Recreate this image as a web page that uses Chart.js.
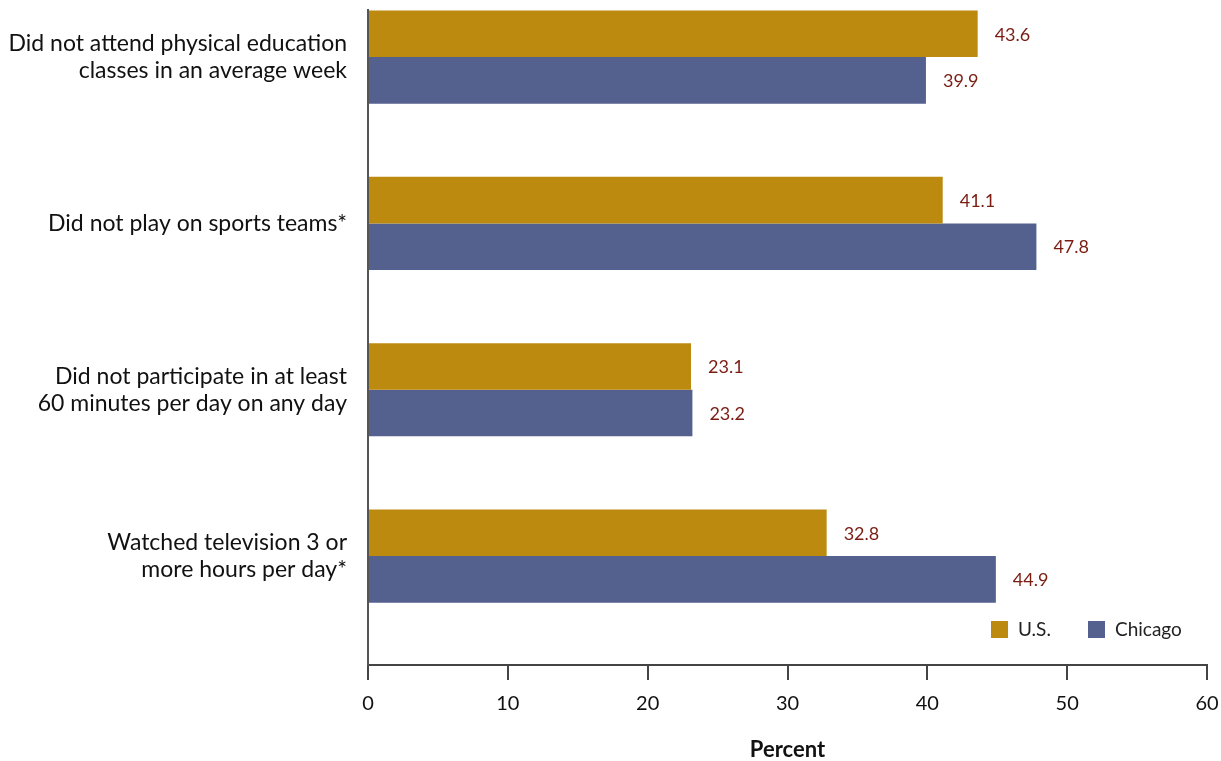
<!DOCTYPE html>
<html>
<head>
<meta charset="utf-8">
<script src="https://cdn.jsdelivr.net/npm/chart.js@4/dist/chart.umd.min.js"></script>
<style>
  html, body { margin: 0; padding: 0; background: #fff; }
  #wrap { width: 1221px; height: 761px; }
</style>
</head>
<body>
<div id="wrap"><canvas id="chart"></canvas></div>
<script>
// Data
const categories = [
  ["Did not attend physical education", "classes in an average week"],
  ["Did not play on sports teams*"],
  ["Did not participate in at least", "60 minutes per day on any day"],
  ["Watched television 3 or", "more hours per day*"]
];
const seriesNames = ["U.S.", "Chicago"];
const usValues = [43.6, 41.1, 23.1, 32.8];
const chicagoValues = [39.9, 47.8, 23.2, 44.9];
const xTicks = [0, 10, 20, 30, 40, 50, 60];

const colors = ["#BC8A0E", "#54618F"];
const labelColor = "#7A1C12";
const fontFamily = "Lato, 'Open Sans', sans-serif";

function toPoints(values) {
  return values.map((v, i) => ({ x: v, y: i }));
}

// Value labels drawn at the end of each bar
const valueLabels = {
  id: "valueLabels",
  afterDatasetsDraw(chart) {
    const ctx = chart.ctx;
    ctx.save();
    ctx.font = "18px " + fontFamily;
    ctx.fillStyle = labelColor;
    ctx.textAlign = "left";
    ctx.textBaseline = "middle";
    chart.data.datasets.forEach((ds, di) => {
      chart.getDatasetMeta(di).data.forEach((bar, i) => {
        const p = bar.getProps(["x", "y"], true);
        ctx.fillText(ds.data[i].x.toFixed(1), p.x + 17, p.y + 1);
      });
    });
    ctx.restore();
  }
};

// Legend sitting inside the plot, bottom right
const innerLegend = {
  id: "innerLegend",
  afterDraw(chart) {
    const ctx = chart.ctx;
    const area = chart.chartArea;
    ctx.save();
    ctx.font = "19px " + fontFamily;
    ctx.textBaseline = "middle";
    const y = area.bottom - 36;
    let x = area.right - 216;
    chart.data.datasets.forEach((ds) => {
      ctx.fillStyle = ds.backgroundColor;
      ctx.fillRect(x, y - 8, 17, 17);
      ctx.fillStyle = "#222";
      ctx.fillText(ds.label, x + 27, y + 1);
      x += 97;
    });
    ctx.restore();
  }
};

new Chart(document.getElementById("chart"), {
  type: "bar",
  data: {
    datasets: [
      { label: seriesNames[0], data: toPoints(usValues), backgroundColor: colors[0] },
      { label: seriesNames[1], data: toPoints(chicagoValues), backgroundColor: colors[1] }
    ]
  },
  options: {
    indexAxis: "y",
    responsive: true,
    maintainAspectRatio: false,
    animation: false,
    categoryPercentage: 0.56,
    barPercentage: 1.0,
    layout: { padding: { top: 10, right: 14, left: 0, bottom: 0 } },
    plugins: {
      legend: { display: false },
      tooltip: { enabled: false }
    },
    scales: {
      x: {
        type: "linear",
        min: 0,
        max: 60,
        afterBuildTicks: (scale) => { scale.ticks = xTicks.map(v => ({ value: v })); },
        afterFit: (scale) => {
          scale.height = 96;
          scale.paddingLeft = 0;
          scale.paddingRight = 0;
        },
        grid: { drawOnChartArea: false, drawTicks: true, tickLength: 15, color: "#444", lineWidth: 2 },
        border: { display: true, color: "#444", width: 2 },
        ticks: { color: "#111", font: { family: fontFamily, size: 20 }, padding: 12 },
        title: {
          display: true,
          text: "Percent",
          color: "#111",
          font: { family: fontFamily, size: 22, weight: "bold", lineHeight: 1 },
          padding: { top: 0, bottom: 0 }
        }
      },
      y: {
        type: "linear",
        reverse: true,
        offset: false,
        min: -0.283,
        max: 3.655,
        afterBuildTicks: (scale) => { scale.ticks = categories.map((c, i) => ({ value: i })); },
        afterFit: (scale) => {
          scale.width = 368;
          scale.paddingTop = 0;
          scale.paddingBottom = 0;
        },
        grid: { display: false, drawTicks: false, offset: false },
        border: { display: true, color: "#555", width: 2 },
        ticks: {
          color: "#111",
          padding: 21,
          font: { family: fontFamily, size: 23, lineHeight: 1.18 },
          callback: (v) => categories[v] || ""
        }
      }
    }
  },
  plugins: [valueLabels, innerLegend]
});
</script>
</body>
</html>
